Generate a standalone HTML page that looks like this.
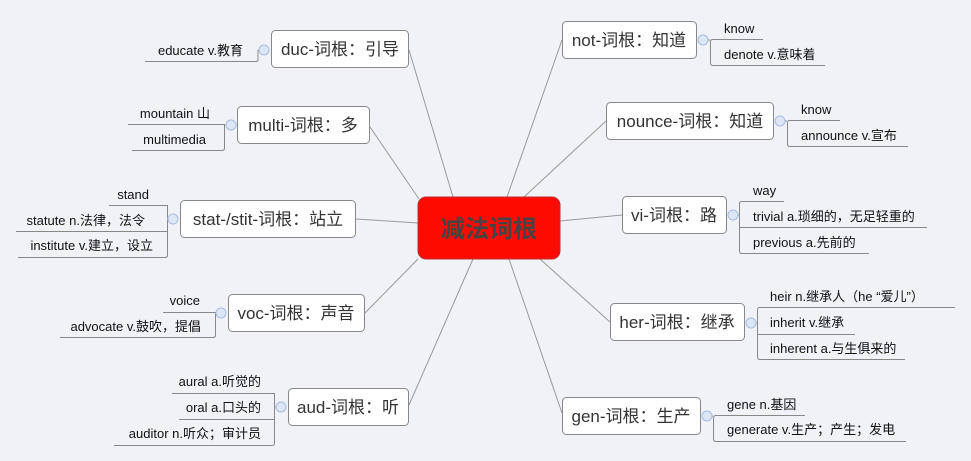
<!DOCTYPE html>
<html><head><meta charset="utf-8"><style>
html,body{margin:0;padding:0;background:#f1f2f8;}
svg{display:block}
text{font-family:"Liberation Sans","Noto Sans CJK SC",sans-serif;fill:#222;}
.n{font-size:17px;fill:#333}
.l{font-size:13px;fill:#111}
</style></head><body>
<svg width="971" height="461" viewBox="0 0 971 461">
<rect width="971" height="461" fill="#f1f2f8"/>
<g stroke="#999" stroke-width="1" fill="none">
<line x1="409" y1="50" x2="453" y2="197"/>
<line x1="370" y1="127" x2="419" y2="199"/>
<line x1="356" y1="219" x2="418" y2="223"/>
<line x1="365" y1="313" x2="418" y2="259"/>
<line x1="409" y1="405" x2="473" y2="259"/>
<line x1="562" y1="40" x2="507" y2="197"/>
<line x1="606" y1="121" x2="524" y2="197"/>
<line x1="622" y1="215" x2="560" y2="221"/>
<line x1="610" y1="322" x2="540" y2="259"/>
<line x1="562" y1="413" x2="509" y2="259"/>
</g>
<rect x="418" y="197" width="142" height="62" rx="8" fill="#ff0a00" stroke="#b33" stroke-width="1"/>
<text x="489" y="237" text-anchor="middle" style="font-size:24px;font-weight:bold;fill:#444">减法词根</text>
<g fill="#fff" stroke="#888" stroke-width="1">
<rect x="271.5" y="30.5" width="137" height="37" rx="4"/>
<rect x="237.5" y="106.5" width="132" height="37" rx="4"/>
<rect x="180.5" y="200.5" width="175" height="37" rx="4"/>
<rect x="228.5" y="294.5" width="136" height="37" rx="4"/>
<rect x="288.5" y="388.5" width="120" height="37" rx="4"/>
<rect x="562.5" y="21.5" width="134" height="37" rx="4"/>
<rect x="606.5" y="102.5" width="167" height="37" rx="4"/>
<rect x="622.5" y="196.5" width="104" height="37" rx="4"/>
<rect x="610.5" y="303.5" width="134" height="37" rx="4"/>
<rect x="562.5" y="397.5" width="138" height="37" rx="4"/>
</g>
<g class="n">
<text class="n" x="340" y="55" text-anchor="middle">duc-词根：引导</text>
<text class="n" x="303" y="131" text-anchor="middle">multi-词根：多</text>
<text class="n" x="268" y="225" text-anchor="middle">stat-/stit-词根：站立</text>
<text class="n" x="296" y="319" text-anchor="middle">voc-词根：声音</text>
<text class="n" x="348" y="413" text-anchor="middle">aud-词根：听</text>
<text class="n" x="629" y="46" text-anchor="middle">not-词根：知道</text>
<text class="n" x="690" y="127" text-anchor="middle">nounce-词根：知道</text>
<text class="n" x="674" y="221" text-anchor="middle">vi-词根：路</text>
<text class="n" x="677" y="328" text-anchor="middle">her-词根：继承</text>
<text class="n" x="631" y="422" text-anchor="middle">gen-词根：生产</text>
</g>
<g stroke="#888" stroke-width="1" fill="none">
<path d="M145 61.5H256Q258 61.5 258 59.5V50"/><line x1="258" y1="50" x2="264" y2="50"/>
<path d="M128 124.5H224.5V148Q224.5 150.5 222 150.5H132"/><line x1="224" y1="125" x2="231" y2="125"/>
<path d="M109 205.5H167.5V255Q167.5 257.5 165 257.5H18M16 231.5H167.5"/><line x1="167" y1="219" x2="173" y2="219"/>
<path d="M163 312.5H215.5V335Q215.5 337.5 213 337.5H60"/><line x1="215" y1="313" x2="221" y2="313"/>
<path d="M172 393.5H274.5V443Q274.5 445.5 272 445.5H114M179 419.5H274.5"/><line x1="275" y1="407" x2="281" y2="407"/>
<path d="M763 39.5H712.5Q710.5 39.5 710.5 42V63Q710.5 65.5 713 65.5H825"/><line x1="703" y1="40" x2="710" y2="40"/>
<path d="M840 120.5H789.5Q787.5 120.5 787.5 123V144Q787.5 146.5 790 146.5H908"/><line x1="780" y1="121" x2="787" y2="121"/>
<path d="M784 201.5H741.5Q739.5 201.5 739.5 204V251Q739.5 253.5 742 253.5H869M739.5 227.5H927"/><line x1="733" y1="215" x2="739" y2="215"/>
<path d="M955 307.5H759.5Q757.5 307.5 757.5 310V357Q757.5 359.5 760 359.5H905M757.5 334.5H855"/><line x1="751" y1="323" x2="757" y2="323"/>
<path d="M805 415.5H715.5Q713.5 415.5 713.5 418V439Q713.5 441.5 716 441.5H906"/><line x1="707" y1="416" x2="713" y2="416"/>
</g>
<g fill="#dde6f7" stroke="#a9bde0" stroke-width="1">
<circle cx="264" cy="50" r="5"/><circle cx="231" cy="125" r="5"/><circle cx="173" cy="219" r="5"/><circle cx="221" cy="313" r="5"/><circle cx="281" cy="407" r="5"/>
<circle cx="703" cy="40" r="5"/><circle cx="780" cy="121" r="5"/><circle cx="733" cy="215" r="5"/><circle cx="751" cy="323" r="5"/><circle cx="707" cy="416" r="5"/>
</g>
<g class="l">
<text class="l" x="243" y="55" text-anchor="end">educate  v.教育</text>
<text class="l" x="210" y="118" text-anchor="end">mountain 山</text>
<text class="l" x="206" y="144" text-anchor="end">multimedia</text>
<text class="l" x="149" y="199" text-anchor="end">stand</text>
<text class="l" x="145" y="225" text-anchor="end">statute n.法律，法令</text>
<text class="l" x="153" y="250" text-anchor="end">institute v.建立，设立</text>
<text class="l" x="200" y="305" text-anchor="end">voice</text>
<text class="l" x="201" y="331" text-anchor="end">advocate v.鼓吹，提倡</text>
<text class="l" x="261" y="386" text-anchor="end">aural a.听觉的</text>
<text class="l" x="261" y="412" text-anchor="end">oral a.口头的</text>
<text class="l" x="261" y="438" text-anchor="end">auditor  n.听众；审计员</text>
<text class="l" x="724" y="33">know</text>
<text class="l" x="724" y="59">denote v.意味着</text>
<text class="l" x="801" y="114">know</text>
<text class="l" x="801" y="140">announce v.宣布</text>
<text class="l" x="753" y="195">way</text>
<text class="l" x="753" y="221">trivial  a.琐细的，无足轻重的</text>
<text class="l" x="753" y="247">previous a.先前的</text>
<text class="l" x="770" y="301">heir n.继承人（he  “爱儿”）</text>
<text class="l" x="770" y="327">inherit v.继承</text>
<text class="l" x="770" y="353">inherent a.与生俱来的</text>
<text class="l" x="727" y="409">gene n.基因</text>
<text class="l" x="727" y="434">generate v.生产；产生；发电</text>
</g>
</svg>
</body></html>
